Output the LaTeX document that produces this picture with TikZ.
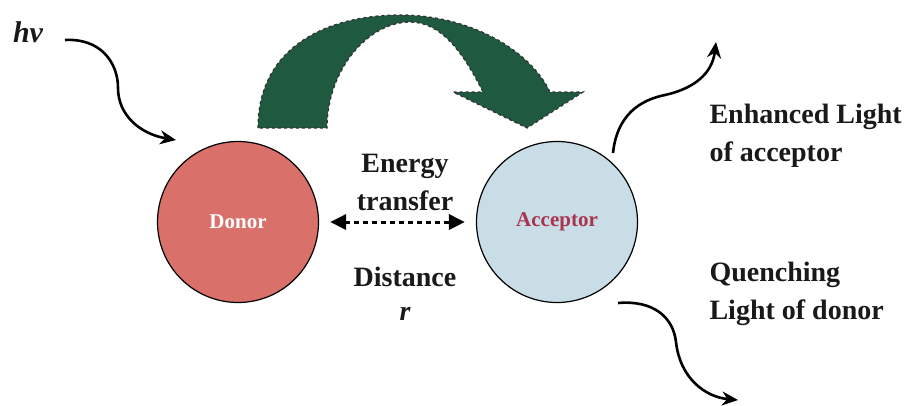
\documentclass[tikz,border=0pt]{standalone}
\usepackage{fontspec}
\setmainfont{Liberation Serif}
\usetikzlibrary{arrows.meta}
\definecolor{donorred}{HTML}{D9706A}
\definecolor{accblue}{HTML}{C9DDE6}
\definecolor{arcgreen}{HTML}{1F5A40}
\definecolor{acctext}{HTML}{A8344E}
\begin{document}
\begin{tikzpicture}[x=1pt,y=-1pt,
  ball/.style={circle,draw=black,line width=1.2pt,minimum size=161pt,inner sep=0pt},
  lbl/.style={font=\fontsize{28}{34}\selectfont\bfseries,text=black!90,align=center},
  wavy/.style={line width=2.6pt,-{Stealth[length=16pt,width=14pt]}},
  dotarrow/.style={line width=3pt,dash pattern=on 5pt off 4pt,{Triangle[length=16pt,width=15pt]}-{Triangle[length=16pt,width=15pt]}}]
\useasboundingbox (0,0) rectangle (909,405);
% big green arc arrow
\filldraw[fill=arcgreen,draw=black!80,line width=1.3pt,dashed]
  (258,128) .. controls (258,45) and (330,15) .. (400,15)
  .. controls (470,15) and (530,50) .. (550,92)
  -- (583,92) -- (527,128) -- (453,92) -- (483,92)
  .. controls (462,50) and (440,22) .. (410,22)
  .. controls (368,22) and (327,70) .. (327,128) -- cycle;
% circles
\node[ball,fill=donorred] (donor) at (238,222) {};
\node[ball,fill=accblue] (acceptor) at (557,222) {};
\node[font=\fontsize{21}{24}\selectfont\bfseries,text=white] (dlab) at (donor) {Donor};
\node[font=\fontsize{21}{24}\selectfont\bfseries,text=acctext] (alab) at (acceptor) {Acceptor};
% middle labels
\node[lbl] (energy) at (405,166) {Energy};
\node[lbl] (transfer) at (405,201) {transfer};
\node[lbl] (distance) at (405,277) {Distance};
\node[lbl,font=\fontsize{28}{34}\selectfont\bfseries\itshape] (r) at (405,314) {r};
\draw[dotarrow,shorten <=11pt,shorten >=11pt] (donor.east) -- (acceptor.west);
% hv
\node[lbl,font=\fontsize{30}{34}\selectfont\bfseries\itshape] (hv) at (28,32) {hv};
\coordinate (hvs) at (65,40);
\coordinate (hve) at (176,140);
\draw[wavy] (hvs) .. controls (100,38) and (118,62) .. (118,88)
  .. controls (118,115) and (140,134) .. (hve);
% enhanced light
\coordinate (ens) at (613,153);
\coordinate (ene) at (716,42);
\draw[wavy] (ens) .. controls (617,115) and (640,100) .. (665,95)
  .. controls (692,89) and (712,75) .. (ene);
\node[lbl,anchor=west] (enh) at (706,117) {Enhanced Light};
\node[lbl,anchor=west] (ofacc) at (706,155) {of acceptor};
% quenching
\coordinate (qs) at (618,303);
\coordinate (qe) at (738,400);
\draw[wavy] (qs) .. controls (652,300) and (673,316) .. (676,342)
  .. controls (680,378) and (705,397) .. (qe);
\node[lbl,anchor=west] (quench) at (706,275) {Quenching};
\node[lbl,anchor=west] (lod) at (706,313) {Light of donor};
\end{tikzpicture}
\end{document}
